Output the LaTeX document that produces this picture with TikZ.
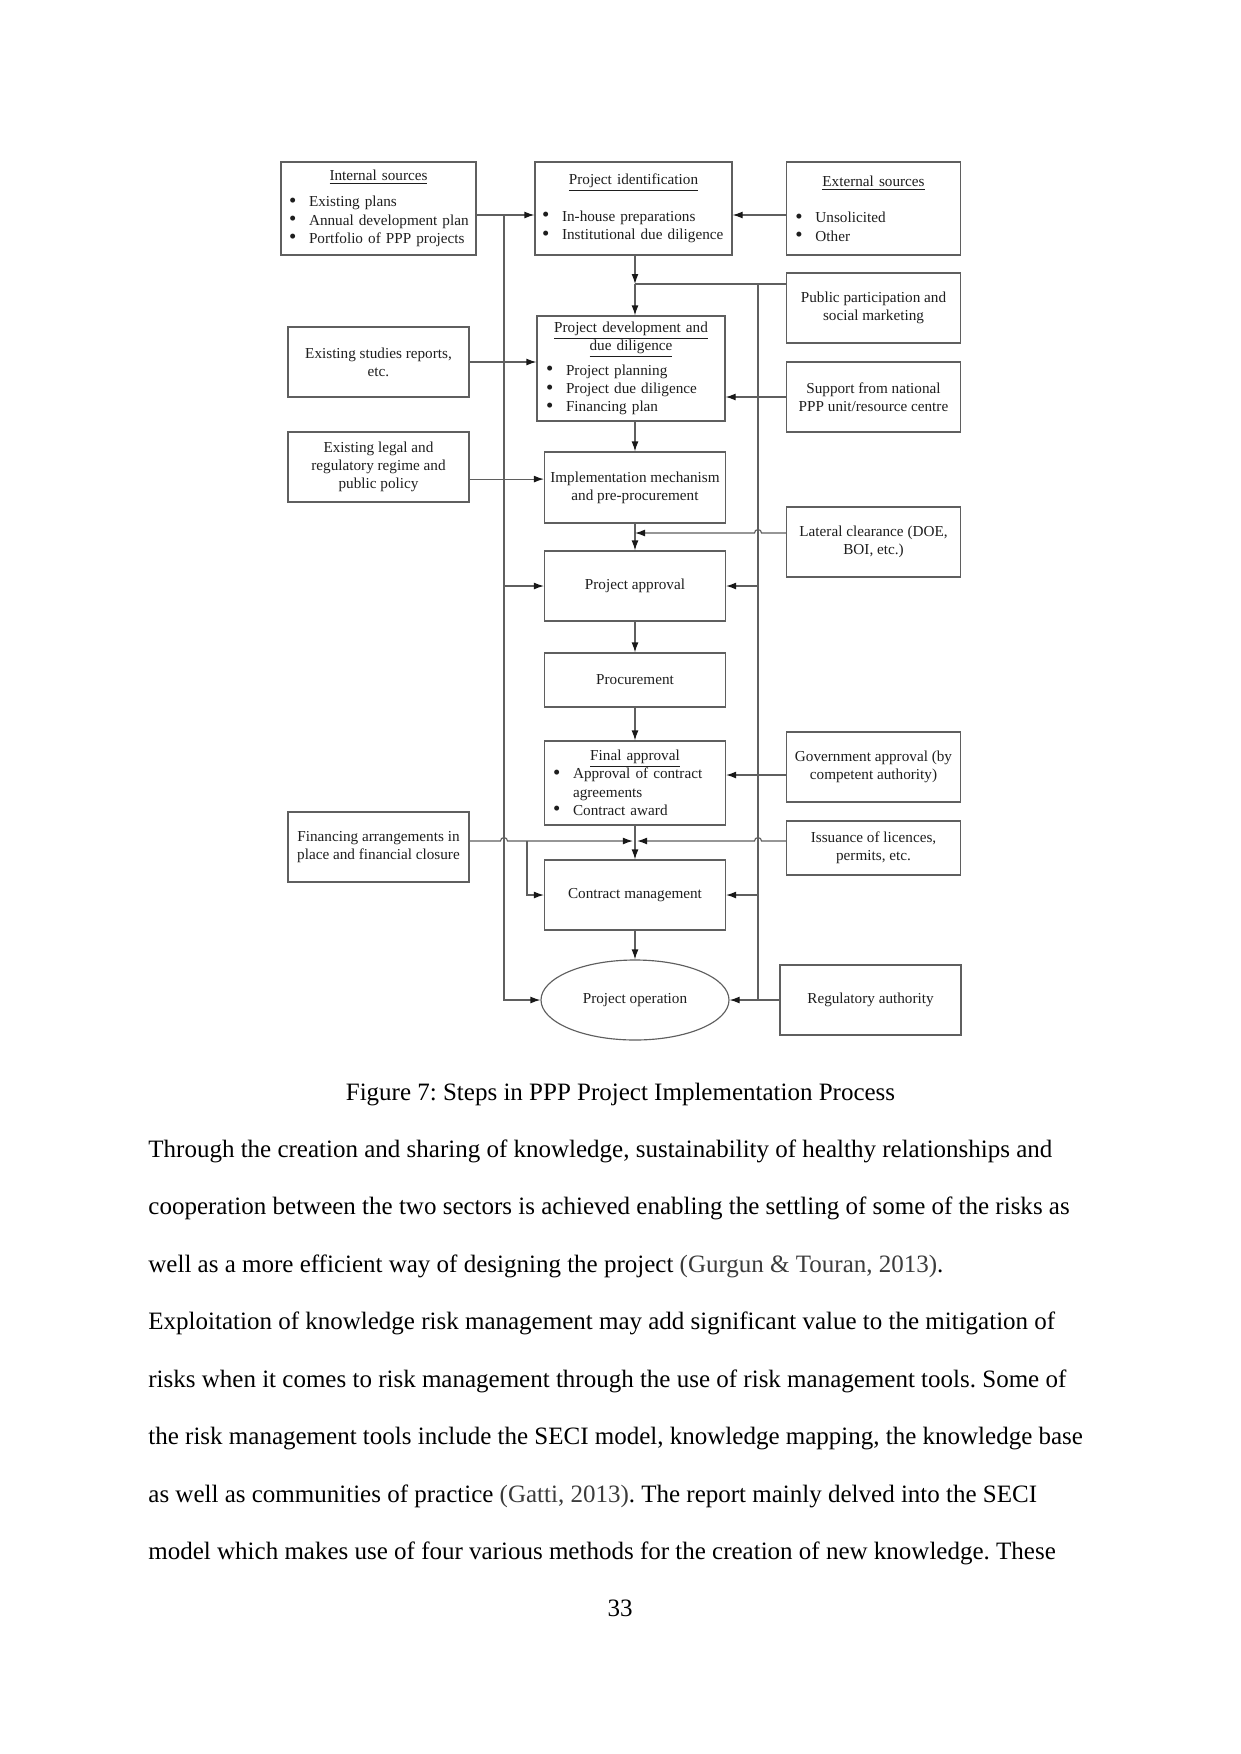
\documentclass[tikz,border=0pt]{standalone}
\usepackage{fontspec}
\setmainfont{Liberation Serif}
\usetikzlibrary{arrows.meta,shapes.geometric}
\definecolor{lineg}{RGB}{95,95,95}
\definecolor{tipg}{RGB}{25,25,25}
\definecolor{inkg}{RGB}{30,30,30}
\definecolor{citeg}{RGB}{60,60,60}

\newcommand{\bul}[1]{\mbox{\makebox[9.6pt][l]{\raisebox{-0.2pt}{\fontsize{10}{10}\selectfont\textbullet}}#1}}
\newcommand{\refcite}[1]{\textcolor{citeg}{#1}}
\frenchspacing

\tikzset{
  boxbase/.style={draw=lineg, line width=0.55pt, rectangle, inner sep=0pt, text=inkg,
    font=\fontsize{7.3}{8.8}\selectfont},
  box/.style={boxbase, align=center},
  sidebox/.style={box, minimum width=83.52pt, minimum height=33.6pt},
  stepbox/.style={box, minimum width=86.88pt, minimum height=33.6pt},
  arr/.style={draw=lineg, line width=0.55pt, -{Latex[length=4.8pt,width=3.3pt,color=tipg]}},
  wire/.style={draw=lineg, line width=0.55pt},
  bodytxt/.style={anchor=base west, inner sep=0pt, font=\fontsize{12}{14}\selectfont}
}

\begin{document}
\begin{tikzpicture}[x=0.48pt, y=-0.48pt]
  \fill[white] (0,0) rectangle (1241,1754);
  \useasboundingbox (0,0) rectangle (1241,1754);

  % --- top row: sources and identification ---
  \node[boxbase, minimum width=93.6pt, minimum height=44.64pt, text width=85.9pt] (intsrc) at (378.5,208.5)
    {{\centering\underline{Internal sources}\par}\vspace{3.7pt}
     \bul{Existing plans}\par
     \bul{Annual development plan}\par
     \bul{Portfolio of PPP projects}\par};
  \node[boxbase, minimum width=94.56pt, minimum height=44.64pt, text width=87.8pt] (projid) at (633.5,208.5)
    {{\centering\underline{Project identification}\par}\vspace{8.8pt}
     \bul{In-house preparations}\par
     \bul{Institutional due diligence}\par};
  \node[boxbase, minimum width=83.52pt, minimum height=44.64pt, text width=74.9pt] (extsrc) at (873.5,208.5)
    {{\centering\underline{External sources}\par}\vspace{8.8pt}
     \bul{Unsolicited}\par
     \bul{Other}\par};

  % --- side inputs ---
  \node[sidebox] (pubpart) at (873.5,308) {Public participation and\\social marketing};
  \node[stepbox] (studies) at (378.5,362) {Existing studies reports,\\etc.};
  \node[sidebox] (support) at (873.5,397) {Support from national\\PPP unit/resource centre};
  \node[stepbox] (legal) at (378.5,467) {Existing legal and\\regulatory regime and\\public policy};
  \node[sidebox] (lateral) at (873.5,542) {Lateral clearance (DOE,\\BOI, etc.)};
  \node[sidebox] (govappr) at (873.5,767) {Government approval (by\\competent authority)};
  \node[stepbox] (finance) at (378.5,847) {Financing arrangements in\\place and financial closure};
  \node[sidebox, minimum height=25.92pt] (issuance) at (873.5,848) {Issuance of licences,\\permits, etc.};
  \node[stepbox] (regul) at (870.5,1000) {Regulatory authority};

  % --- main column ---
  \node[boxbase, minimum width=90.24pt, minimum height=50.4pt, text width=81.6pt] (projdev) at (631,368.5)
    {{\centering\underline{Project development and}\par\underline{due diligence}\par}\vspace{3pt}
     \bul{Project planning}\par
     \bul{Project due diligence}\par
     \bul{Financing plan}\par};
  \node[stepbox, minimum height=34.08pt] (implmech) at (635,487.5) {Implementation mechanism\\and pre-procurement};
  \node[stepbox] (projappr) at (635,586) {Project approval};
  \node[stepbox, minimum height=25.92pt] (procure) at (635,680) {Procurement};
  \node[boxbase, minimum width=86.88pt, minimum height=40.32pt, text width=78.7pt] (finalappr) at (635,783)
    {{\centering\underline{Final approval}\par}
     \bul{Approval of contract}\par
     \hspace*{9.6pt}agreements\par
     \bul{Contract award}\par};
  \node[stepbox] (contract) at (635,895) {Contract management};
  \node[box, ellipse, minimum width=90.24pt, minimum height=38.4pt] (projop) at (635,1000) {Project operation};

  % --- junctions and buses ---
  \coordinate (lbus) at (504,215);
  \coordinate (rbus) at (758,284);
  \coordinate (jtop) at (635,284);
  \coordinate (jlat) at (635,533);
  \coordinate (jfin) at (635,841);
  \coordinate (fbr) at (527,841);

  % top row
  \draw[arr] (intsrc.east |- lbus) -- (projid.west |- lbus);
  \draw[arr] (extsrc.west |- lbus) -- (projid.east |- lbus);
  \draw[arr] (projid.south -| jtop) -- (jtop);
  \draw[arr] (jtop) -- (projdev.north -| jtop);
  \draw[wire] (pubpart.west |- jtop) -- (jtop);

  % left bus
  \draw[arr] (lbus) |- (projop.west);
  \draw[arr] (lbus |- projappr.west) -- (projappr.west);

  % right bus
  \draw[arr] (rbus) |- (projop.east);
  \draw[arr] (rbus |- projappr.east) -- (projappr.east);
  \draw[arr] (rbus |- contract.east) -- (contract.east);
  \draw[wire] (regul.west) -- (rbus |- regul.west);

  % side inputs
  \draw[arr] (studies.east) -- (projdev.west |- studies.east);
  \draw[arr] (support.west) -- (projdev.east |- support.west);
  \draw[arr] ([yshift=-5.8pt]legal.east) -- ([yshift=-5.8pt]legal.east -| implmech.west);
  \draw[arr] ([yshift=-3.84pt]govappr.west) -- ([yshift=-3.84pt]govappr.west -| finalappr.east);

  % main flow
  \draw[arr] (projdev.south -| jtop) -- (implmech.north);
  \draw[wire] (implmech.south) -- (jlat);
  \draw[arr] (jlat) -- (projappr.north);
  \draw[arr] (projappr.south) -- (procure.north);
  \draw[arr] (procure.south) -- (finalappr.north);
  \draw[wire] (finalappr.south) -- (jfin);
  \draw[arr] (jfin) -- (contract.north);
  \draw[arr] (contract.south) -- (projop.north);

  % lines hopping over the buses
  \draw[arr] (lateral.west |- jlat) -- ([xshift=1.68pt]rbus |- jlat)
    arc[start angle=0, end angle=-180, radius=3.5] -- (jlat);
  \draw[arr] (finance.east |- jfin) -- ([xshift=-1.68pt]lbus |- jfin)
    arc[start angle=180, end angle=360, radius=3.5] -- ([xshift=-1pt]jfin);
  \draw[arr] (issuance.west |- jfin) -- ([xshift=1.68pt]rbus |- jfin)
    arc[start angle=0, end angle=-180, radius=3.5] -- ([xshift=1pt]jfin);
  \draw[arr] (fbr) |- (contract.west);

  % --- caption, body text, page number ---
  \node[anchor=base, inner sep=0pt, font=\fontsize{12}{14}\selectfont] (caption) at (620.5,1100)
    {Figure 7: Steps in PPP Project Implementation Process};
  \foreach \txt [count=\i from 0] in {
    {Through the creation and sharing of knowledge, sustainability of healthy relationships and},
    {cooperation between the two sectors is achieved enabling the settling of some of the risks as},
    {well as a more efficient way of designing the project \refcite{(Gurgun \& Touran, 2013)}.},
    {Exploitation of knowledge risk management may add significant value to the mitigation of},
    {risks when it comes to risk management through the use of risk management tools. Some of},
    {the risk management tools include the SECI model, knowledge mapping, the knowledge base},
    {as well as communities of practice \refcite{(Gatti, 2013)}. The report mainly delved into the SECI},
    {model which makes use of four various methods for the creation of new knowledge. These}}
    \node[bodytxt] (body\i) at (148,{1157+57.5*\i}) {\txt};
  \node[anchor=base, inner sep=0pt, font=\fontsize{12}{14}\selectfont] (pagenum) at (620,1616) {33};
\end{tikzpicture}
\end{document}
